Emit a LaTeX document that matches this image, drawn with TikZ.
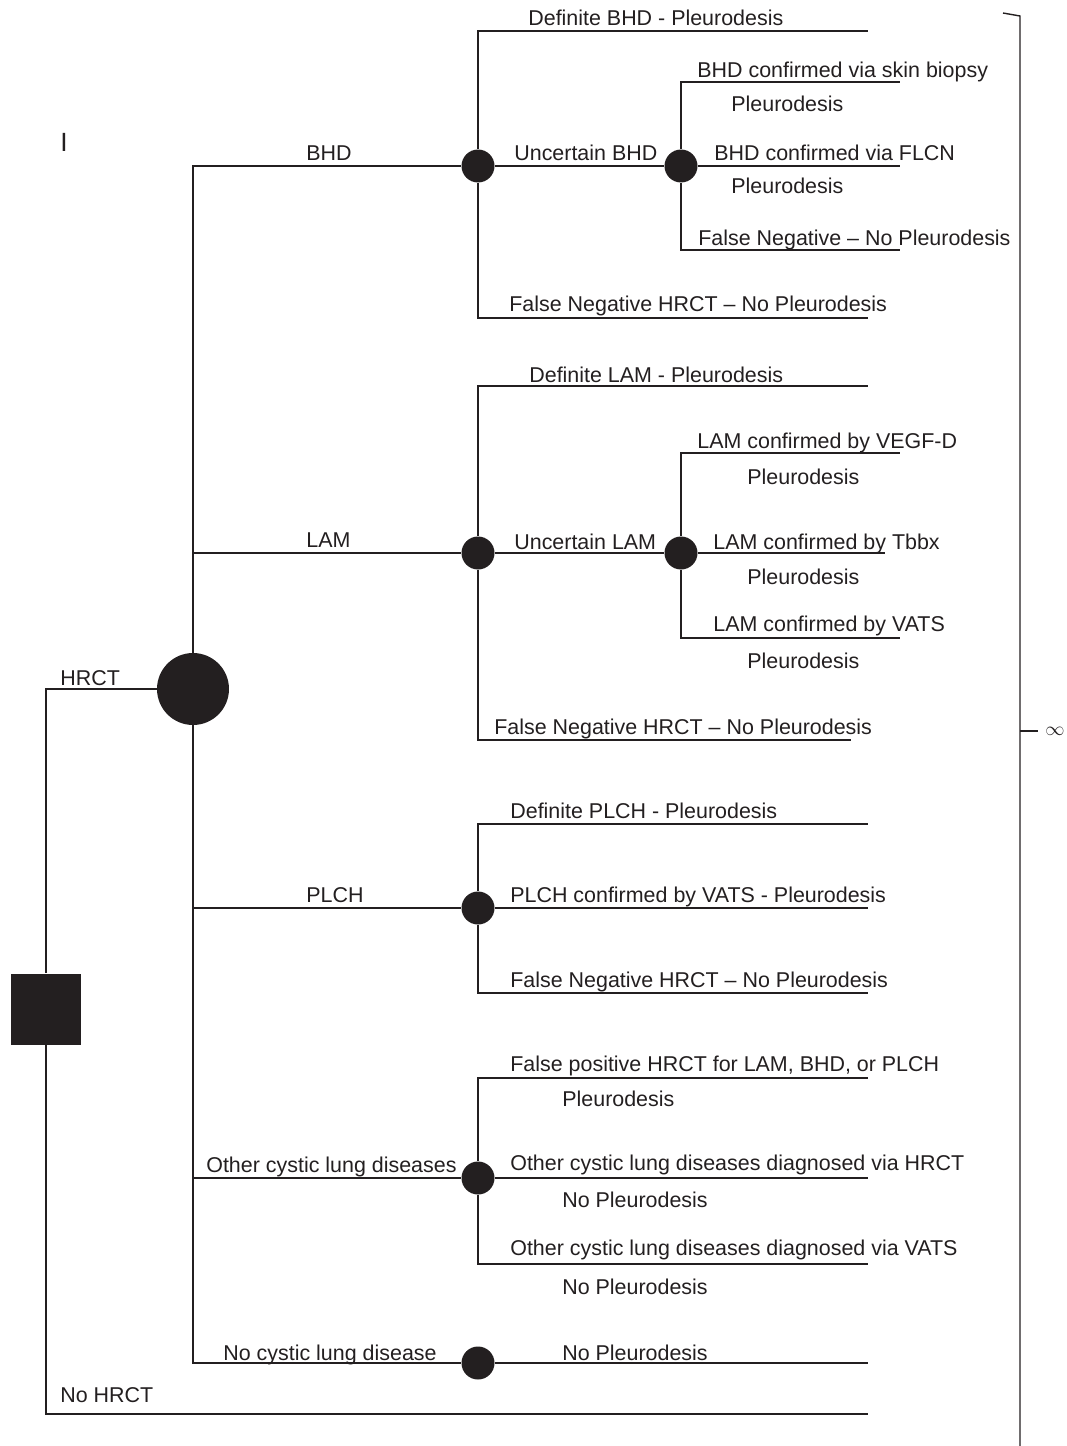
\documentclass[tikz,border=0pt]{standalone}
\usepackage{fontspec}
\setmainfont{Liberation Sans}
\usetikzlibrary{positioning}
\definecolor{treeink}{HTML}{231F20}

\begin{document}
\begin{tikzpicture}[x=0.02cm,y=-0.02cm,
    branch/.style={draw=treeink,line width=0.8pt},
    chance/.style={circle,fill=treeink,inner sep=0pt,minimum size=0.66cm},
    bigchance/.style={circle,fill=treeink,inner sep=0pt,minimum size=1.44cm},
    decision/.style={rectangle,fill=treeink,inner sep=0pt,minimum size=1.42cm},
    lbl/.style={anchor=base west,inner sep=0pt,text=treeink,font=\fontsize{12.2}{14}\selectfont}]
    \useasboundingbox (0,0) rectangle (1067,1446);
    % decision and chance nodes
    \node[decision] (root) at (46,1009) {};
    \node[bigchance] (hrct) at (193,689) {};
    \node[chance] (bhd) at (478,166) {};
    \node[chance] (bhdu) at (681,166) {};
    \node[chance] (lam) at (478,553) {};
    \node[chance] (lamu) at (681,553) {};
    \node[chance] (plch) at (478,908) {};
    \node[chance] (other) at (478,1178) {};
    \node[chance] (none) at (478,1363) {};
    % branch ends
    \coordinate (bhdA) at (868,31);
    \coordinate (bhduB1) at (900,82);
    \coordinate (bhduB2) at (900,166);
    \coordinate (bhduB3) at (900,250);
    \coordinate (bhdC) at (868,318);
    \coordinate (lamA) at (868,386);
    \coordinate (lamuB1) at (900,453);
    \coordinate (lamuB2) at (885,553);
    \coordinate (lamuB3) at (900,638);
    \coordinate (lamC) at (851,740);
    \coordinate (plchA) at (868,824);
    \coordinate (plchB) at (868,908);
    \coordinate (plchC) at (868,993);
    \coordinate (otherA) at (868,1078);
    \coordinate (otherB) at (868,1178);
    \coordinate (otherC) at (868,1264);
    \coordinate (noneA) at (868,1363);
    \coordinate (nohrct) at (868,1414);
    % branches
    \draw[branch] (root) |- (hrct);
    \draw[branch] (root) |- (nohrct);
    \foreach \n in {bhd,lam,plch,other,none}{
      \draw[branch] (hrct) |- (\n);
    }
    \foreach \n in {bhd,lam,plch,other}{
      \draw[branch] (\n) |- (\n A);
      \draw[branch] (\n) |- (\n C);
    }
    \draw[branch] (bhd) -- (bhdu);
    \draw[branch] (lam) -- (lamu);
    \draw[branch] (plch) -- (plchB);
    \draw[branch] (other) -- (otherB);
    \draw[branch] (none) -- (noneA);
    \foreach \n in {bhdu,lamu}{
      \draw[branch] (\n) |- (\n B1);
      \draw[branch] (\n) -- (\n B2);
      \draw[branch] (\n) |- (\n B3);
    }
    % labels
    \node[lbl,font=\fontsize{15}{18}\selectfont] (mark) at (60,152) {I};
    \node[lbl] (hrctlbl) at (60,685) {HRCT};
    \node[lbl] (nohrctlbl) at (60,1402) {No HRCT};
    \node[lbl] (bhdlbl) at (306,161) {BHD};
    \node[lbl] (lamlbl) at (306,547) {LAM};
    \node[lbl] (plchlbl) at (306,902) {PLCH};
    \node[lbl] (otherlbl) at (206,1172) {Other cystic lung diseases};
    \node[lbl] (nonelbl) at (223,1360) {No cystic lung disease};
    \node[lbl] at (528,26) {Definite BHD - Pleurodesis};
    \node[lbl] at (514,161) {Uncertain BHD};
    \node[lbl] at (697,78) {BHD confirmed via skin biopsy};
    \node[lbl] at (714,161) {BHD confirmed via FLCN};
    \node[lbl] at (698,245) {False Negative -- No Pleurodesis};
    \node[lbl] at (509,311) {False Negative HRCT -- No Pleurodesis};
    \node[lbl] at (529,382) {Definite LAM - Pleurodesis};
    \node[lbl] at (514,549) {Uncertain LAM};
    \node[lbl] at (697,448) {LAM confirmed by VEGF-D};
    \node[lbl] at (713,549) {LAM confirmed by Tbbx};
    \node[lbl] at (713,631) {LAM confirmed by VATS};
    \node[lbl] at (494,734) {False Negative HRCT -- No Pleurodesis};
    \node[lbl] at (510,818) {Definite PLCH - Pleurodesis};
    \node[lbl] at (510,902) {PLCH confirmed by VATS - Pleurodesis};
    \node[lbl] at (510,987) {False Negative HRCT -- No Pleurodesis};
    \node[lbl] at (510,1071) {False positive HRCT for LAM, BHD, or PLCH};
    \node[lbl] at (510,1170) {Other cystic lung diseases diagnosed via HRCT};
    \node[lbl] at (510,1255) {Other cystic lung diseases diagnosed via VATS};
    \foreach \x/\y in {731/112,731/194,747/484,747/584,747/668,562/1106}{
      \node[lbl] at (\x,\y) {Pleurodesis};
    }
    \foreach \y in {1207,1294,1360}{
      \node[lbl] at (562,\y) {No Pleurodesis};
    }
    % bracket with infinity
    \coordinate (brtop) at (1003,13);
    \coordinate (brmid) at (1020,731);
    \node[lbl,anchor=west,font=\fontsize{11}{13}\selectfont] (inf) at (1045,731) {$\infty$};
    \draw[branch] (brtop) -- (1020,16) -- (1020,1446);
    \draw[branch] (brmid) -- ++(18,0);
\end{tikzpicture}
\end{document}
